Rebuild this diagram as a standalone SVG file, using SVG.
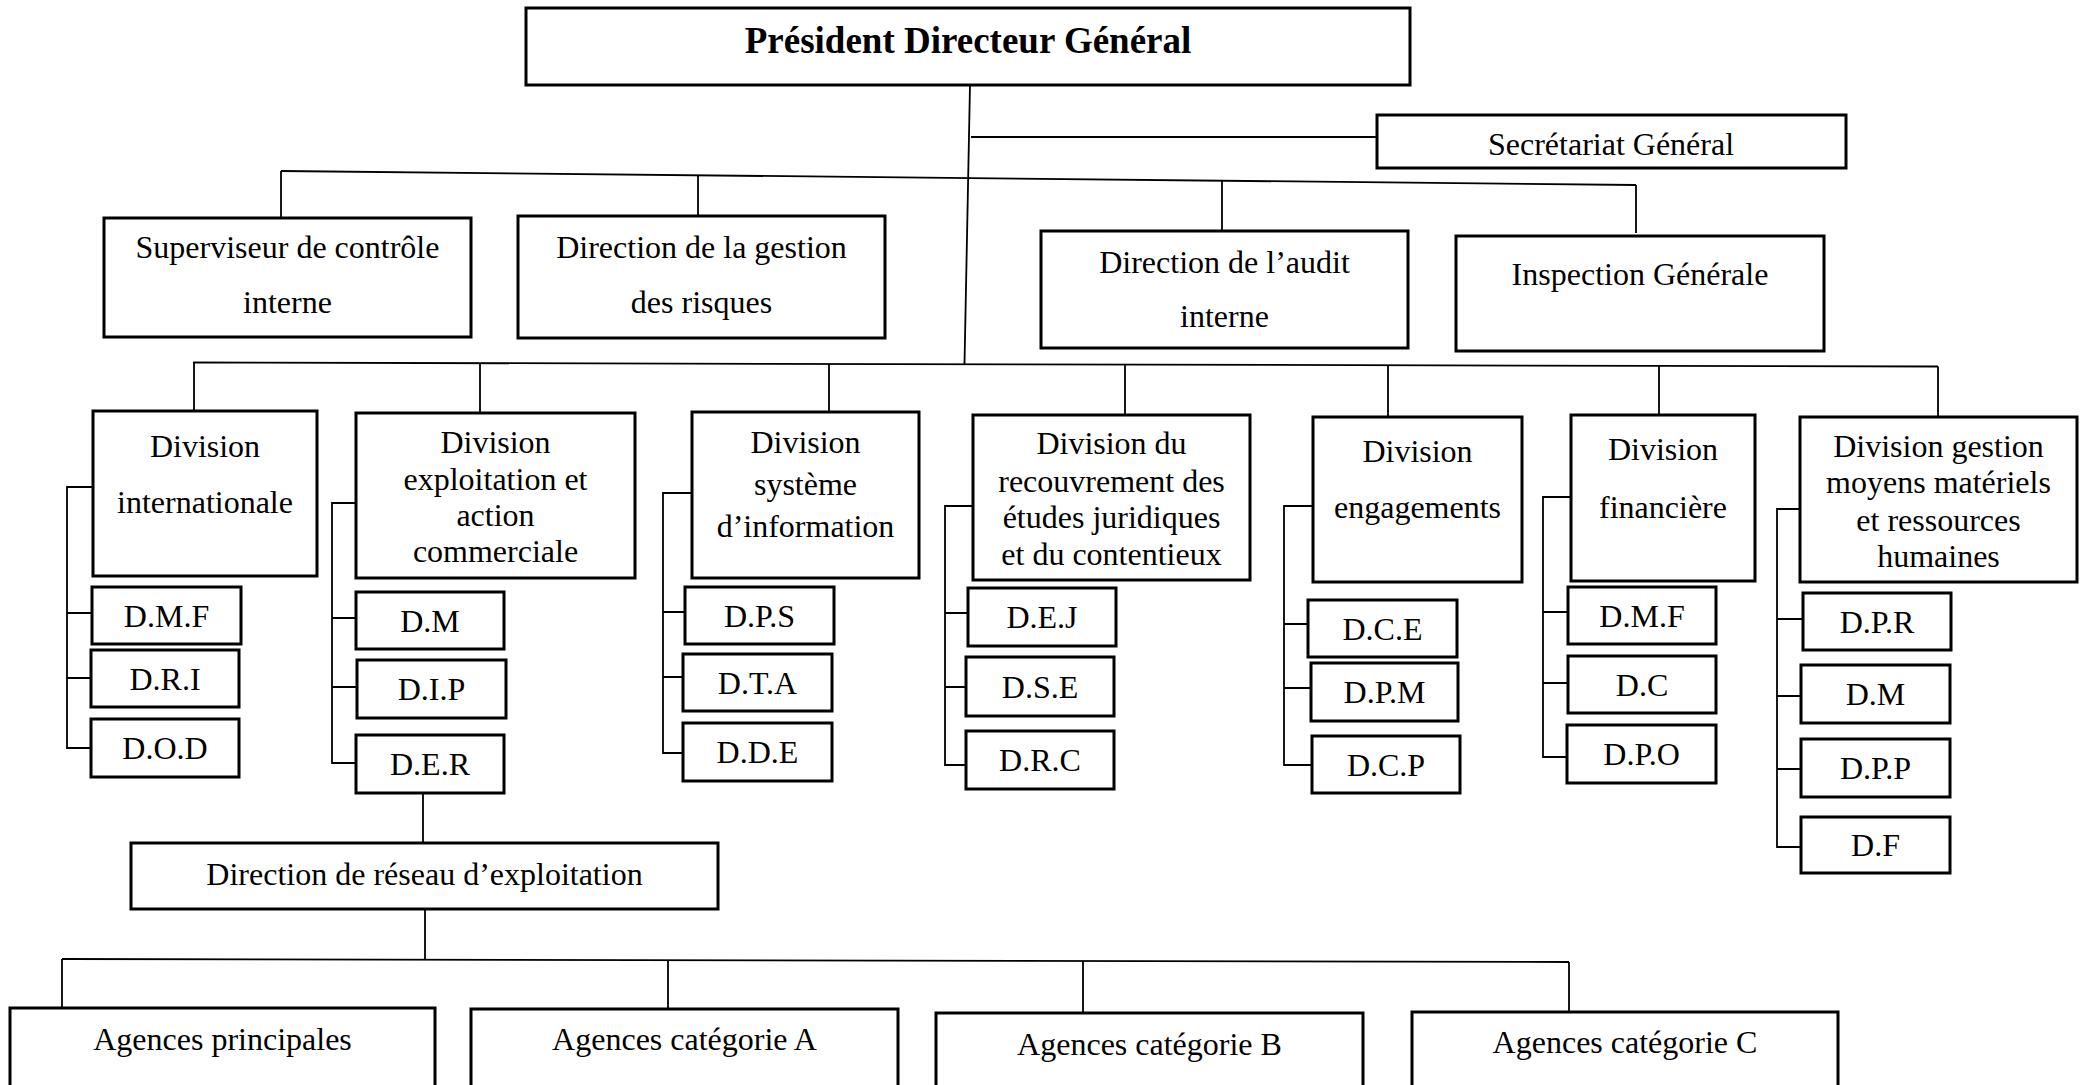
<svg xmlns="http://www.w3.org/2000/svg" width="2081" height="1085" viewBox="0 0 2081 1085">
  <style>
    .box { fill: #fff; stroke: #000; stroke-width: 3; }
    .ln { fill: none; stroke: #000; stroke-width: 1.8; }
    text { font-family: "Liberation Serif", "Times New Roman", serif; font-size: 32px; fill: #000; text-anchor: middle; }
    .title { font-size: 37px; font-weight: bold; }
  </style>
  <rect width="2081" height="1085" fill="#fff"/>

  <!-- connectors -->
  <g id="connectors" class="ln">
    <!-- trunk from the top box -->
    <path d="M970 85 L964.5 364"/>
    <path d="M971 137 H1377"/>
    <!-- first staff row -->
    <path d="M281 171 L1636 185"/>
    <path d="M281 171 V218 M698 175.3 V216 M1222 180.7 V231 M1636 185 V233"/>
    <!-- divisions bus -->
    <path d="M193 362.5 L1938 366.5"/>
    <path d="M194 362.5 V411 M480 363.2 V413 M829 364 V412 M1125 364.6 V415 M1388 365.2 V417 M1659 365.9 V415 M1938 366.5 V417"/>
    <!-- side brackets -->
    <path d="M93 487 H67 V748 H91 M67 613 H92 M67 678 H91"/>
    <path d="M356 503 H332 V763 H356 M332 618 H356 M332 687 H357"/>
    <path d="M692 493 H663 V753 H683 M663 612 H685 M663 677 H683"/>
    <path d="M973 506 H945 V765 H966 M945 613 H968 M945 687 H966"/>
    <path d="M1313 506 H1284 V765 H1312 M1284 624 H1308 M1284 688 H1311"/>
    <path d="M1571 497 H1543 V757 H1567 M1543 612 H1568 M1543 683 H1568"/>
    <path d="M1800 509 H1777 V847 H1801 M1777 619 H1803 M1777 696 H1801 M1777 769 H1801"/>
    <!-- network branch -->
    <path d="M423 793 V843 M425 909 V959"/>
    <path d="M62 959 L1569 962"/>
    <path d="M62 959 V1008 M668 960 V1009 M1083 961 V1013 M1569 962 V1012"/>
  </g>

  <g id="pdg">
    <rect class="box" x="526" y="8" width="884" height="77"/>
    <text class="title" x="968" y="53">Président Directeur Général</text>
  </g>
  <g id="secretariat">
    <rect class="box" x="1377" y="115" width="469" height="53"/>
    <text x="1611" y="155">Secrétariat Général</text>
  </g>

  <g id="superviseur">
    <rect class="box" x="104" y="218" width="367" height="119"/>
    <text x="287.5" y="258">Superviseur de contrôle</text>
    <text x="287.5" y="313">interne</text>
  </g>
  <g id="gestion-risques">
    <rect class="box" x="518" y="216" width="367" height="122"/>
    <text x="701.5" y="258">Direction de la gestion</text>
    <text x="701.5" y="313">des risques</text>
  </g>
  <g id="audit">
    <rect class="box" x="1041" y="231" width="367" height="117"/>
    <text x="1224.5" y="273">Direction de l’audit</text>
    <text x="1224.5" y="327">interne</text>
  </g>
  <g id="inspection">
    <rect class="box" x="1456" y="236" width="368" height="115"/>
    <text x="1640" y="285">Inspection Générale</text>
  </g>

  <!-- divisions -->
  <g id="div-internationale">
    <rect class="box" x="93" y="411" width="224" height="165"/>
    <text x="205" y="457">Division</text>
    <text x="205" y="513">internationale</text>
  </g>
  <g id="div-exploitation">
    <rect class="box" x="356" y="413" width="279" height="165"/>
    <text x="495.5" y="453">Division</text>
    <text x="495.5" y="490">exploitation et</text>
    <text x="495.5" y="526">action</text>
    <text x="495.5" y="562">commerciale</text>
  </g>
  <g id="div-si">
    <rect class="box" x="692" y="412" width="227" height="166"/>
    <text x="805.5" y="453">Division</text>
    <text x="805.5" y="495">système</text>
    <text x="805.5" y="537">d’information</text>
  </g>
  <g id="div-recouvrement">
    <rect class="box" x="973" y="415" width="277" height="165"/>
    <text x="1111.5" y="454">Division du</text>
    <text x="1111.5" y="492">recouvrement des</text>
    <text x="1111.5" y="528">études juridiques</text>
    <text x="1111.5" y="565">et du contentieux</text>
  </g>
  <g id="div-engagements">
    <rect class="box" x="1313" y="417" width="209" height="165"/>
    <text x="1417.5" y="462">Division</text>
    <text x="1417.5" y="518">engagements</text>
  </g>
  <g id="div-financiere">
    <rect class="box" x="1571" y="415" width="184" height="166"/>
    <text x="1663" y="460">Division</text>
    <text x="1663" y="518">financière</text>
  </g>
  <g id="div-gestion">
    <rect class="box" x="1800" y="417" width="277" height="165"/>
    <text x="1938.5" y="457">Division gestion</text>
    <text x="1938.5" y="493">moyens matériels</text>
    <text x="1938.5" y="531">et ressources</text>
    <text x="1938.5" y="567">humaines</text>
  </g>

  <!-- departments -->
  <g id="intl-dmf"><rect class="box" x="92" y="587" width="149" height="57"/><text x="166.5" y="627">D.M.F</text></g>
  <g id="intl-dri"><rect class="box" x="91" y="650" width="148" height="57"/><text x="165" y="690">D.R.I</text></g>
  <g id="intl-dod"><rect class="box" x="91" y="719" width="148" height="58"/><text x="165" y="759">D.O.D</text></g>

  <g id="exp-dm"><rect class="box" x="356" y="592" width="148" height="57"/><text x="430" y="632">D.M</text></g>
  <g id="exp-dip"><rect class="box" x="357" y="660" width="149" height="58"/><text x="431.5" y="700">D.I.P</text></g>
  <g id="exp-der"><rect class="box" x="356" y="735" width="148" height="58"/><text x="430" y="775">D.E.R</text></g>

  <g id="si-dps"><rect class="box" x="685" y="587" width="149" height="57"/><text x="759.5" y="627">D.P.S</text></g>
  <g id="si-dta"><rect class="box" x="683" y="654" width="149" height="57"/><text x="757.5" y="694">D.T.A</text></g>
  <g id="si-dde"><rect class="box" x="683" y="723" width="149" height="58"/><text x="757.5" y="763">D.D.E</text></g>

  <g id="rec-dej"><rect class="box" x="968" y="588" width="148" height="58"/><text x="1042" y="628">D.E.J</text></g>
  <g id="rec-dse"><rect class="box" x="966" y="657" width="148" height="59"/><text x="1040" y="698">D.S.E</text></g>
  <g id="rec-drc"><rect class="box" x="966" y="731" width="148" height="58"/><text x="1040" y="771">D.R.C</text></g>

  <g id="eng-dce"><rect class="box" x="1308" y="600" width="149" height="57"/><text x="1382.5" y="640">D.C.E</text></g>
  <g id="eng-dpm"><rect class="box" x="1311" y="663" width="147" height="58"/><text x="1384.5" y="703">D.P.M</text></g>
  <g id="eng-dcp"><rect class="box" x="1312" y="736" width="148" height="57"/><text x="1386" y="776">D.C.P</text></g>

  <g id="fin-dmf"><rect class="box" x="1568" y="587" width="148" height="57"/><text x="1642" y="627">D.M.F</text></g>
  <g id="fin-dc"><rect class="box" x="1568" y="656" width="148" height="57"/><text x="1642" y="696">D.C</text></g>
  <g id="fin-dpo"><rect class="box" x="1567" y="725" width="149" height="58"/><text x="1641.5" y="765">D.P.O</text></g>

  <g id="ges-dpr"><rect class="box" x="1803" y="593" width="148" height="57"/><text x="1877" y="633">D.P.R</text></g>
  <g id="ges-dm"><rect class="box" x="1801" y="665" width="149" height="58"/><text x="1875.5" y="705">D.M</text></g>
  <g id="ges-dpp"><rect class="box" x="1801" y="739" width="149" height="58"/><text x="1875.5" y="779">D.P.P</text></g>
  <g id="ges-df"><rect class="box" x="1801" y="817" width="149" height="56"/><text x="1875.5" y="856">D.F</text></g>

  <!-- operating network -->
  <g id="reseau">
    <rect class="box" x="131" y="843" width="587" height="66"/>
    <text x="424.5" y="885">Direction de réseau d’exploitation</text>
  </g>
  <g id="agences-principales">
    <rect class="box" x="10" y="1008" width="425" height="120"/>
    <text x="222.5" y="1050">Agences principales</text>
  </g>
  <g id="agences-a">
    <rect class="box" x="471" y="1009" width="427" height="120"/>
    <text x="684.5" y="1050">Agences catégorie A</text>
  </g>
  <g id="agences-b">
    <rect class="box" x="936" y="1013" width="427" height="120"/>
    <text x="1149.5" y="1055">Agences catégorie B</text>
  </g>
  <g id="agences-c">
    <rect class="box" x="1412" y="1012" width="426" height="120"/>
    <text x="1625" y="1053">Agences catégorie C</text>
  </g>
</svg>
